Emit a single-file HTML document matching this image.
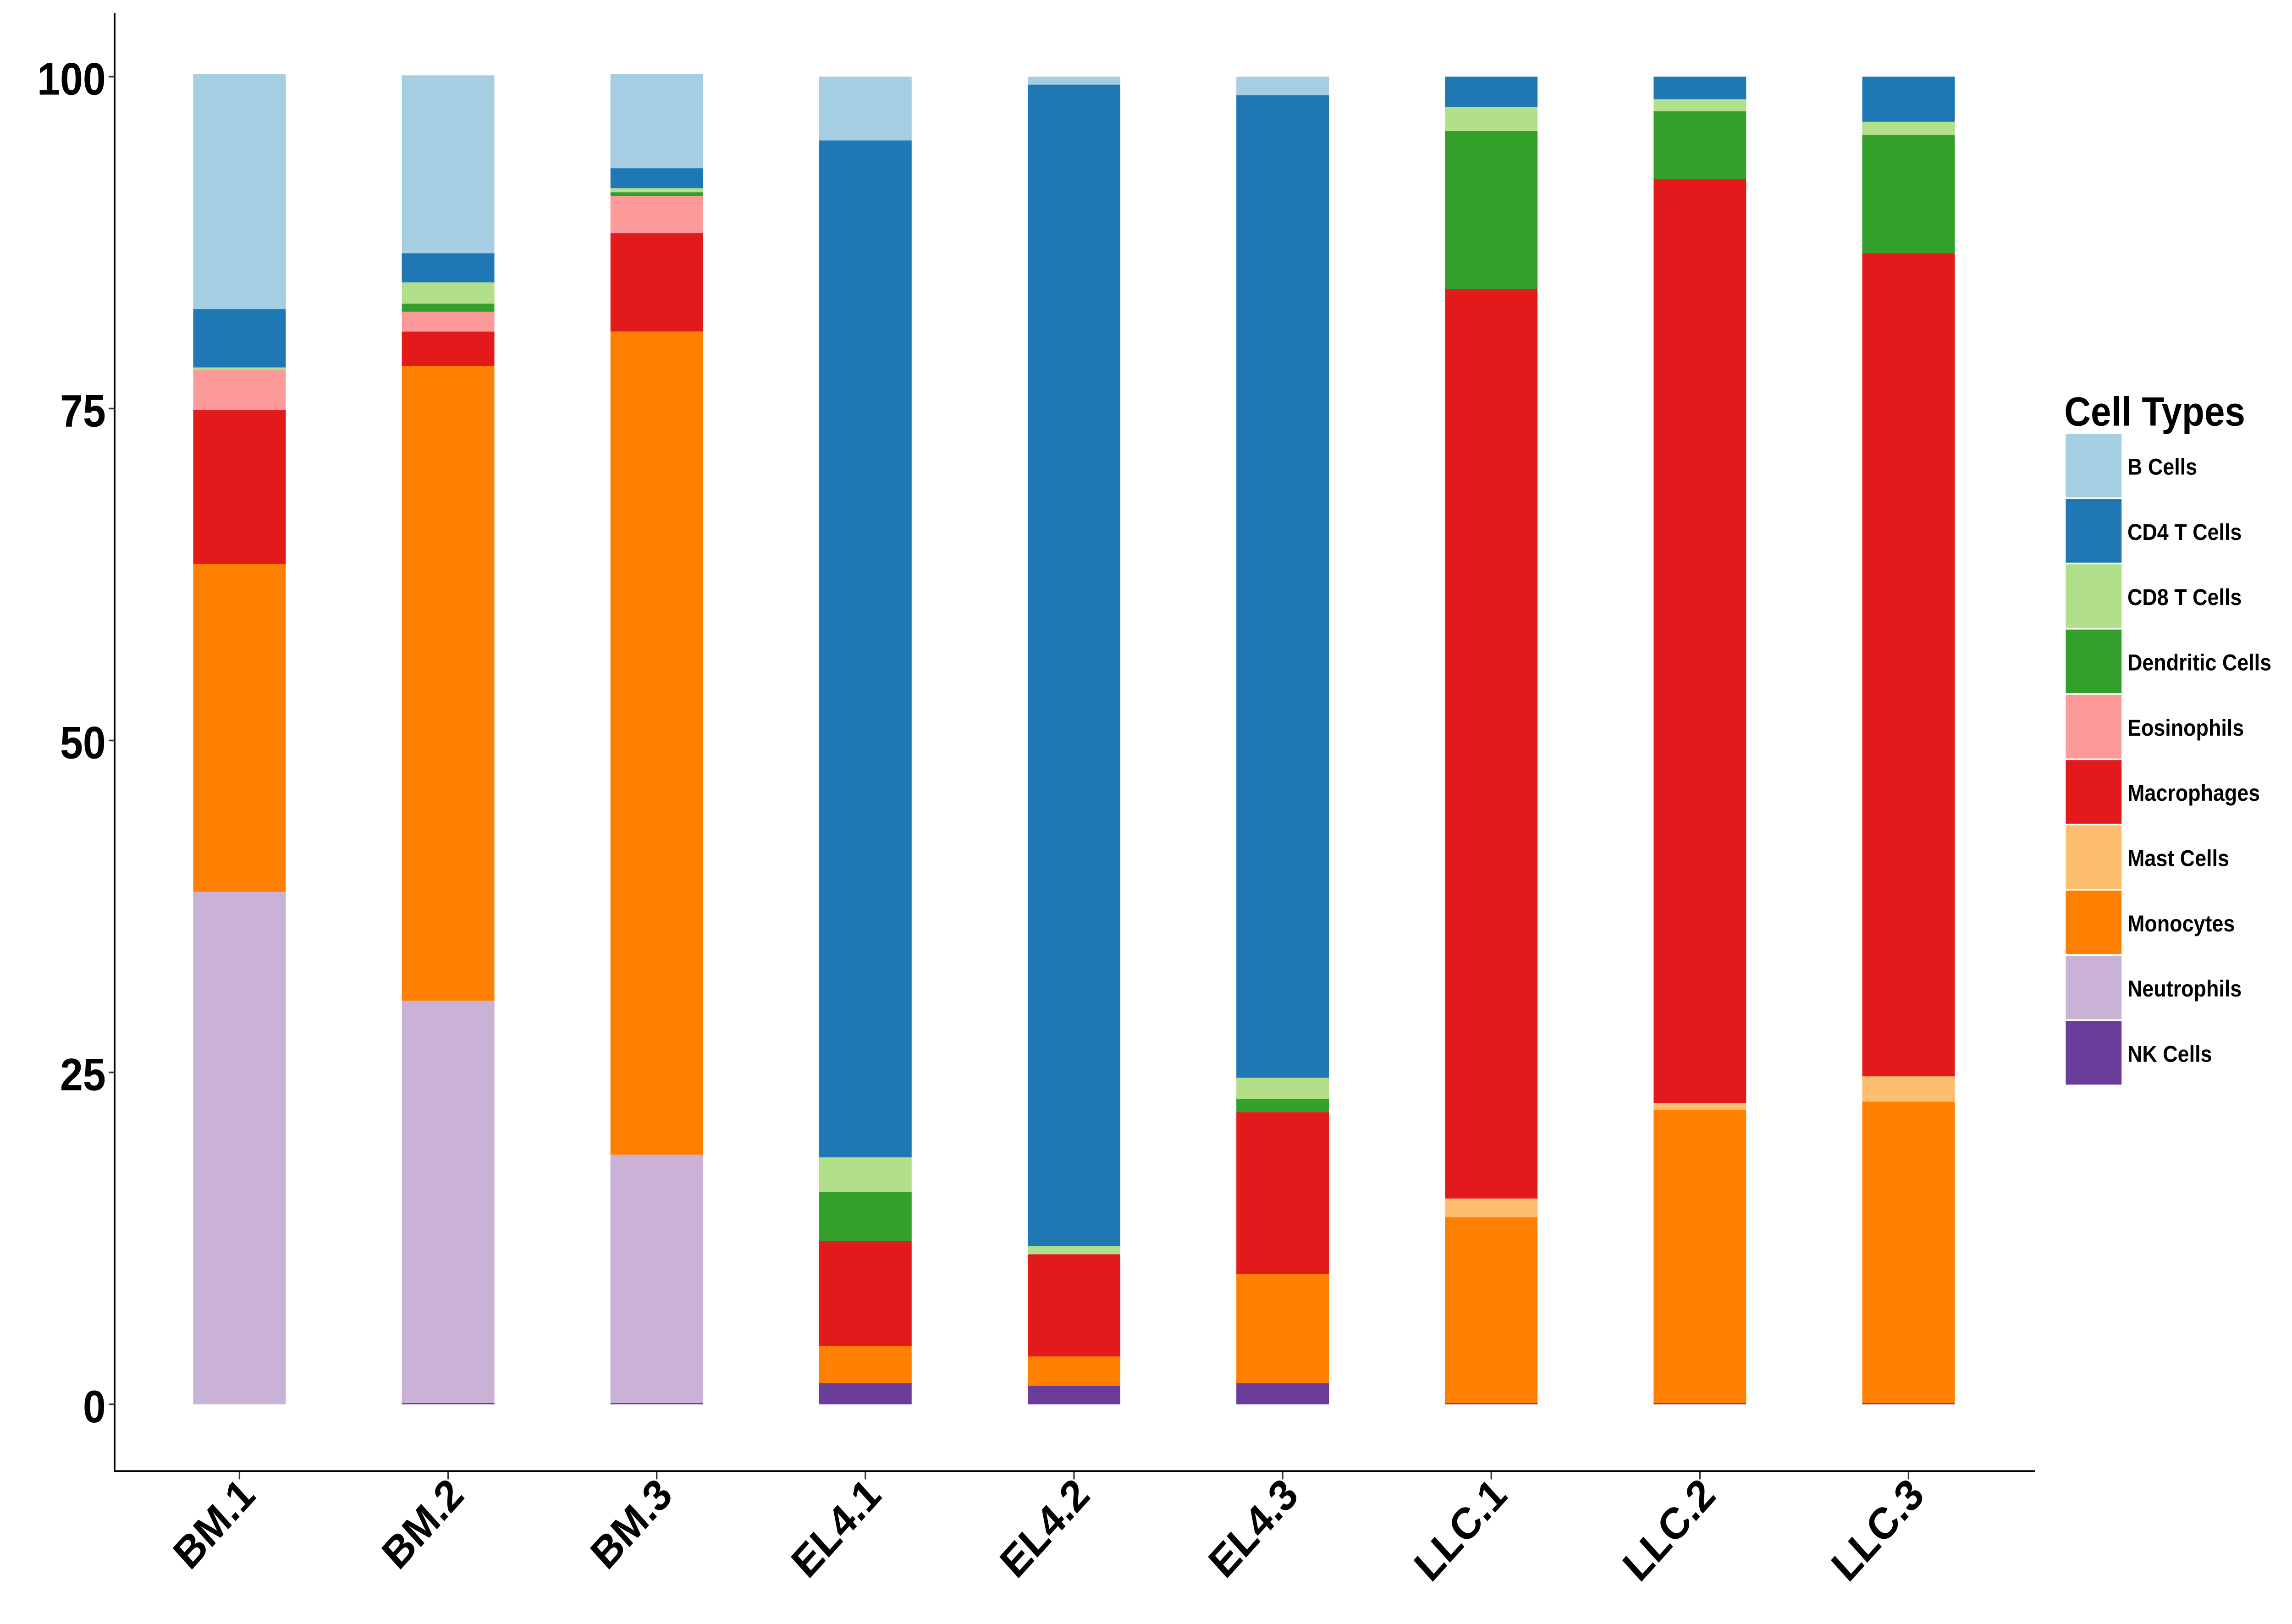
<!DOCTYPE html>
<html><head><meta charset="utf-8"><style>
html,body{margin:0;padding:0;background:#fff;overflow:hidden;width:100vw;height:100vh;}
svg{display:block;width:100vw;height:100vh;font-family:"Liberation Sans",sans-serif;}
</style></head><body>
<svg id="chart" viewBox="0 0 1560 995.7" preserveAspectRatio="none" xmlns="http://www.w3.org/2000/svg">
<rect x="0" y="0" width="1560" height="996" fill="#fff"/>
<g id="bars"></g>
<g id="axes"></g>
<g id="legend"></g>
</svg>
<script>
const samples = ["BM.1","BM.2","BM.3","EL4.1","EL4.2","EL4.3","LLC.1","LLC.2","LLC.3"];
const cellTypes = ["B Cells","CD4 T Cells","CD8 T Cells","Dendritic Cells","Eosinophils","Macrophages","Mast Cells","Monocytes","Neutrophils","NK Cells"];
const colors = ["#A6CEE3","#1F78B4","#B2DF8A","#33A02C","#FB9A99","#E31A1C","#FDBF6F","#FF7F00","#CAB2D6","#6A3D9A"];
const bCells      = [17.7, 13.4, 7.1, 4.8, 0.6, 1.4, 0, 0, 0];
const cd4T        = [4.4, 2.2, 1.5, 76.6, 87.5, 74.0, 2.3, 1.7, 3.4];
const cd8T        = [0.2, 1.6, 0.3, 2.6, 0.6, 1.6, 1.8, 0.9, 1.0];
const dendritic   = [0, 0.6, 0.3, 3.7, 0, 1.0, 11.9, 5.1, 8.9];
const eosinophils = [3.0, 1.5, 2.8, 0, 0, 0, 0, 0, 0];
const macrophages = [11.6, 2.6, 7.4, 7.9, 7.7, 12.2, 68.5, 69.6, 62.0];
const mastCells   = [0, 0, 0, 0, 0, 0, 1.4, 0.5, 1.9];
const monocytes   = [24.7, 47.8, 62.0, 2.8, 2.2, 8.2, 14.0, 22.1, 22.7];
const neutrophils = [38.6, 30.3, 18.7, 0, 0, 0, 0, 0, 0];
const nkCells     = [0, 0.1, 0.1, 1.6, 1.4, 1.6, 0.1, 0.1, 0.1];
const yTicks = [0, 25, 50, 75, 100];

const series = [bCells,cd4T,cd8T,dendritic,eosinophils,macrophages,mastCells,monocytes,neutrophils,nkCells];
const NS="http://www.w3.org/2000/svg";
const y0=861, y100=47;
const yScale = v => y0 - (y0-y100)*v/100;
const xLeft=78, xStep=142, xFirst=163, barW=63;
const xScale = i => xFirst + i*xStep;
function mk(tag, attrs, parent){const e=document.createElementNS(NS,tag);for(const k in attrs)e.setAttribute(k,attrs[k]);parent.appendChild(e);return e;}
const bars=document.getElementById('bars'), axes=document.getElementById('axes'), legend=document.getElementById('legend');

samples.forEach((s,i)=>{
  let cum=0;
  for(let k=series.length-1;k>=0;k--){
    const v=series[k][i];
    if(v<=0) continue;
    const r=mk('rect',{x:xScale(i)-barW/2,y:yScale(cum+v),width:barW,height:yScale(cum)-yScale(cum+v),fill:colors[k]},bars);
    
    
    cum+=v;
  }
  const t=mk('text',{x:0,y:0,'font-size':27,'font-weight':'bold','text-anchor':'end',transform:`translate(${xScale(i)+12},${918}) rotate(-45)`},axes);
  t.textContent=s;
  
  
  mk('line',{x1:xScale(i),x2:xScale(i),y1:902,y2:907,stroke:'#333','stroke-width':1},axes);
});
mk('line',{x1:xLeft,x2:xLeft,y1:8,y2:902.5,stroke:'#000','stroke-width':1.2},axes);
mk('line',{x1:xLeft-0.5,x2:1385,y1:902,y2:902,stroke:'#000','stroke-width':1.2},axes);
yTicks.forEach(v=>{
  mk('line',{x1:xLeft-4,x2:xLeft,y1:yScale(v),y2:yScale(v),stroke:'#333','stroke-width':1},axes);
  const t=mk('text',{x:72,y:yScale(v)+11,'font-size':28,'font-weight':'bold','text-anchor':'end'},axes);
  t.textContent=v;
  
  
});
const lt=mk('text',{x:1405,y:261,'font-size':25,'font-weight':'bold'},legend);
lt.textContent='Cell Types';


cellTypes.forEach((c,k)=>{
  const y=266+k*40;
  const r=mk('rect',{x:1406,y:y,width:38,height:39,fill:colors[k]},legend);
  
  
  const t=mk('text',{x:1448,y:y+25,'font-size':14,'font-weight':'bold'},legend);
  t.textContent=c;
  
  
});
</script>
</body></html>
